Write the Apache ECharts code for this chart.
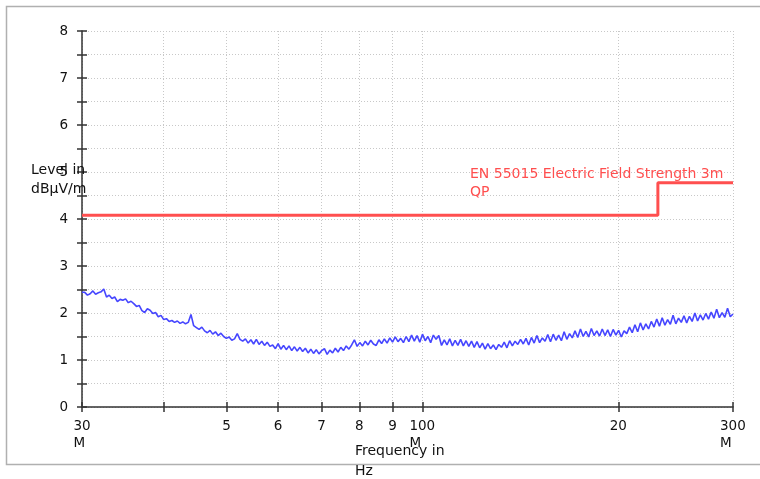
<!DOCTYPE html>
<html>
<head>
<meta charset="utf-8">
<script src="https://cdn.jsdelivr.net/npm/echarts@6/dist/echarts.min.js"></script>
<style>html,body{margin:0;padding:0;background:#fff;}#c{width:760px;height:479px;}</style>
</head>
<body>
<div id="c"></div>
<script>
// Sweep definition (MHz)
const sweepStart = 30;
const sweepStop = 300;
const level = [
  2.44, 2.44, 2.38, 2.41, 2.47, 2.40, 2.43, 2.45, 2.51, 2.34,
  2.38, 2.31, 2.34, 2.24, 2.29, 2.27, 2.30, 2.22, 2.25, 2.20,
  2.14, 2.16, 2.05, 2.01, 2.09, 2.06, 1.99, 2.01, 1.92, 1.95,
  1.86, 1.88, 1.82, 1.84, 1.80, 1.83, 1.78, 1.81, 1.77, 1.80,
  1.97, 1.73, 1.69, 1.65, 1.70, 1.62, 1.58, 1.63, 1.55, 1.60,
  1.52, 1.57, 1.50, 1.46, 1.49, 1.42, 1.45, 1.56, 1.44, 1.40,
  1.45, 1.36, 1.43, 1.34, 1.44, 1.33, 1.40, 1.31, 1.38, 1.29,
  1.32, 1.24, 1.35, 1.23, 1.31, 1.22, 1.30, 1.20, 1.28, 1.19,
  1.27, 1.18, 1.25, 1.15, 1.23, 1.14, 1.22, 1.13, 1.20, 1.24,
  1.12, 1.21, 1.15, 1.25, 1.17, 1.27, 1.20, 1.30, 1.23, 1.32,
  1.43, 1.29, 1.37, 1.30, 1.40, 1.32, 1.42, 1.34, 1.31, 1.43,
  1.35, 1.45, 1.36, 1.47, 1.38, 1.49, 1.39, 1.46, 1.37, 1.50,
  1.39, 1.53, 1.40, 1.52, 1.38, 1.55, 1.41, 1.50, 1.37, 1.53,
  1.44, 1.52, 1.31, 1.43, 1.32, 1.45, 1.30, 1.42, 1.31, 1.44,
  1.30, 1.41, 1.29, 1.40, 1.27, 1.39, 1.26, 1.36, 1.23, 1.35,
  1.24, 1.32, 1.22, 1.33, 1.27, 1.38, 1.26, 1.41, 1.30, 1.40,
  1.33, 1.44, 1.34, 1.46, 1.32, 1.48, 1.36, 1.52, 1.37, 1.47,
  1.40, 1.54, 1.39, 1.55, 1.42, 1.53, 1.41, 1.60, 1.44, 1.56,
  1.47, 1.62, 1.48, 1.66, 1.50, 1.61, 1.49, 1.67, 1.52, 1.62,
  1.51, 1.66, 1.52, 1.64, 1.50, 1.65, 1.53, 1.63, 1.49, 1.62,
  1.56, 1.70, 1.58, 1.75, 1.60, 1.79, 1.64, 1.77, 1.66, 1.82,
  1.70, 1.87, 1.72, 1.90, 1.74, 1.86, 1.76, 1.95, 1.77, 1.89,
  1.80, 1.94, 1.79, 1.93, 1.82, 2.00, 1.83, 1.96, 1.85, 1.99,
  1.87, 2.02, 1.89, 2.08, 1.90, 2.01, 1.91, 2.10, 1.92, 1.98
];
// Limit line EN 55015 (freq MHz, level)
const limitFreq = [30, 230, 230, 300];
const limitLevel = [4.08, 4.08, 4.77, 4.77];
// Axis ticks
const xTickValues = [30, 40, 50, 60, 70, 80, 90, 100, 200, 300];
const xTickLabels = ['30\nM', '', '5', '6', '7', '8', '9', '100\nM', '20', '300\nM'];
const yMin = 0, yMax = 8, yStep = 0.5;

const freqs = level.map((_, i) => sweepStart * Math.pow(sweepStop / sweepStart, i / (level.length - 1)));
const traceData = level.map((v, i) => [freqs[i], v]);
const limitData = limitFreq.map((f, i) => [f, limitLevel[i]]);

const FONT = 'DejaVu Sans';
const TXT = '#111';

function xLabel(v) {
  let best = 0, bd = Infinity;
  xTickValues.forEach((t, i) => { const d = Math.abs(Math.log(t) - Math.log(v)); if (d < bd) { bd = d; best = i; } });
  const s = xTickLabels[best];
  if (!s) return '';
  const parts = s.split('\n');
  if (parts.length === 1) return '{n|' + parts[0] + '}';
  const st = parts[0].length >= 3 ? 'w3' : 'w2';
  return '{' + st + '|' + parts[0] + '}\n{' + st + '|' + parts[1] + '}';
}

const axisLineStyle = { color: '#333', width: 1.5 };
const gridLineStyle = { color: '#c8c8c8', type: [1, 2], width: 1 };

const xBase = {
  type: 'log', logBase: 10, min: sweepStart, max: sweepStop,
  gridIndex: 0, position: 'bottom'
};

const chart = echarts.init(document.getElementById('c'), null, { renderer: 'canvas' });
chart.setOption({
  animation: false,
  backgroundColor: '#fff',
  grid: { left: 82, right: 27, top: 31, bottom: 72, containLabel: false },
  xAxis: [
    Object.assign({}, xBase, {
      axisLine: { show: true, lineStyle: axisLineStyle },
      axisTick: { show: true, length: 5, inside: false, lineStyle: axisLineStyle, customValues: xTickValues },
      axisLabel: {
        show: true, customValues: xTickValues, margin: 11, color: TXT, fontFamily: FONT, fontSize: 13.5,
        formatter: xLabel,
        rich: {
          n: { fontFamily: FONT, fontSize: 13.5, color: TXT, lineHeight: 17 },
          w2: { fontFamily: FONT, fontSize: 13.5, color: TXT, lineHeight: 17, width: 17, align: 'left' },
          w3: { fontFamily: FONT, fontSize: 13.5, color: TXT, lineHeight: 17, width: 26, align: 'left' }
        }
      },
      splitLine: { show: true, lineStyle: gridLineStyle },
      minorTick: { show: false }, minorSplitLine: { show: false }
    }),
    Object.assign({}, xBase, {
      axisLine: { show: false },
      axisTick: { show: true, length: 5, inside: true, lineStyle: axisLineStyle, customValues: xTickValues },
      axisLabel: { show: false },
      splitLine: { show: false }
    })
  ],
  yAxis: [
    {
      type: 'value', min: yMin, max: yMax, interval: yStep, position: 'left',
      axisLine: { show: true, lineStyle: axisLineStyle },
      axisTick: { show: true, length: 5, inside: false, lineStyle: axisLineStyle },
      axisLabel: {
        margin: 14, color: TXT, fontFamily: FONT, fontSize: 13.5,
        formatter: v => (Math.abs(v - Math.round(v)) < 1e-9 ? String(Math.round(v)) : '')
      },
      splitLine: { show: true, lineStyle: gridLineStyle }
    },
    {
      type: 'value', min: yMin, max: yMax, interval: yStep, position: 'left', offset: 0,
      axisLine: { show: false },
      axisTick: { show: true, length: 5, inside: true, lineStyle: axisLineStyle },
      axisLabel: { show: false },
      splitLine: { show: false }
    }
  ],
  series: [
    {
      type: 'line', name: 'trace', xAxisIndex: 0, yAxisIndex: 0,
      data: traceData, showSymbol: false, symbol: 'none',
      lineStyle: { color: '#4646ff', width: 1.6 }, z: 3
    },
    {
      type: 'line', name: 'limit', xAxisIndex: 0, yAxisIndex: 0,
      data: limitData, showSymbol: false, symbol: 'none',
      lineStyle: { color: '#ff4f4f', width: 3 }, z: 4
    }
  ],
  graphic: [
    { type: 'rect', left: 4, top: 4, silent: true, z: -1,
      shape: { width: 800, height: 458 },
      style: { fill: 'none', stroke: '#b0b0b0', lineWidth: 1.5 } },
    { type: 'text', left: 31, top: 161, z: 10,
      style: { text: 'Level in\ndBµV/m', fontFamily: FONT, fontSize: 14, lineHeight: 19, fill: TXT } },
    { type: 'text', left: 355, top: 441, z: 10,
      style: { text: 'Frequency in\nHz', fontFamily: FONT, fontSize: 14, lineHeight: 20, fill: TXT } },
    { type: 'text', left: 470, top: 165, z: 10,
      style: { text: 'EN 55015 Electric Field Strength 3m\nQP', fontFamily: FONT, fontSize: 14, lineHeight: 18, fill: '#ff4f4f' } }
  ]
});
</script>
</body>
</html>
